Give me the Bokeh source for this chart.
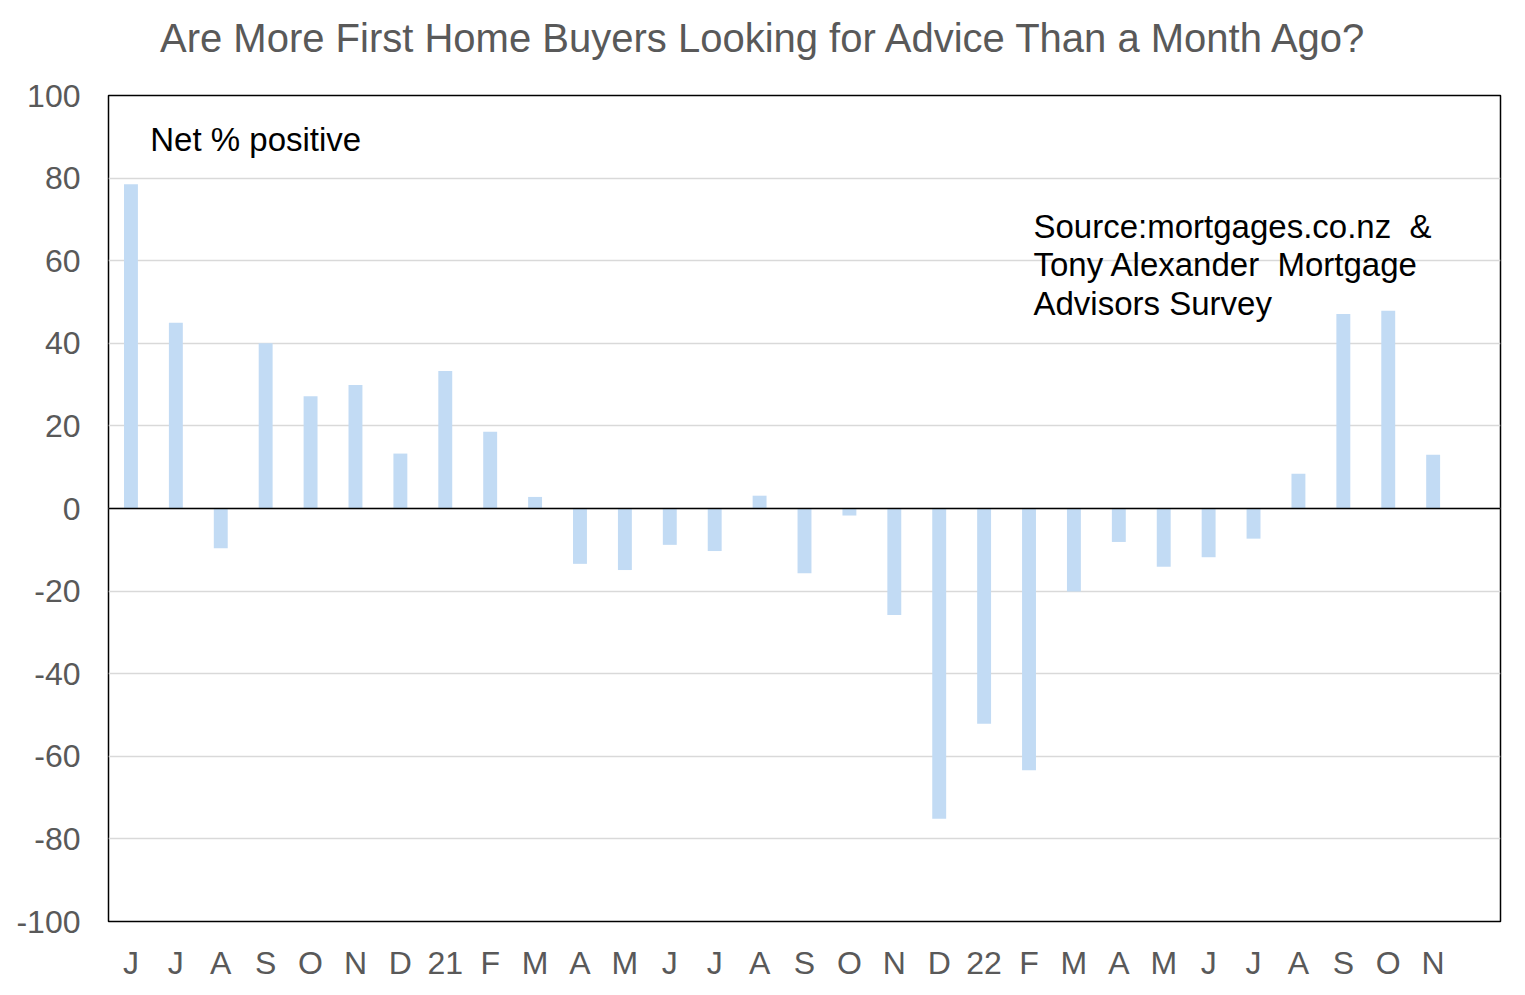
from bokeh.plotting import figure
from bokeh.layouts import column
from bokeh.models import FixedTicker, Span, Label, Range1d, ColumnDataSource, Div
from bokeh.embed import file_html
from bokeh.resources import INLINE

# monthly survey, Jun 2020 .. Nov 2022
months = ["J", "J", "A", "S", "O", "N", "D", "21", "F", "M", "A", "M", "J", "J", "A",
          "S", "O", "N", "D", "22", "F", "M", "A", "M", "J", "J", "A", "S", "O", "N"]
net_positive = [78.5, 45.0, -9.6, 40.0, 27.2, 29.9, 13.3, 33.3, 18.6, 2.8, -13.4, -14.9, -8.8, -10.3, 3.1,
                -15.7, -1.7, -25.8, -75.1, -52.1, -63.4, -20.1, -8.1, -14.1, -11.8, -7.3, 8.4, 47.1, 47.9, 13.0]
y_ticks = [-100, -80, -60, -40, -20, 0, 20, 40, 60, 80, 100]
source_lines = ["Source:mortgages.co.nz \u00a0&", "Tony Alexander \u00a0Mortgage", "Advisors Survey"]
title = "Are More First Home Buyers Looking for Advice Than a Month Ago?"

FONT = "Liberation Sans"
idx = list(range(len(months)))
src = ColumnDataSource(dict(x=idx, y=net_positive))

head = Div(text=title, width=1520, height=62, margin=0,
           styles={"font-family": FONT, "font-size": "40px", "color": "#595959",
                   "line-height": "48px", "padding-top": "14px", "padding-left": "160px",
                   "white-space": "nowrap"})

p = figure(width=1520, height=923, output_backend="svg", toolbar_location=None, tools="",
           x_range=Range1d(-0.5, len(months) + 0.5), y_range=Range1d(-100, 100),
           min_border_left=108, min_border_right=20, min_border_top=33, min_border_bottom=64)
p.margin = 0

p.vbar(x="x", top="y", bottom=0, width=0.31, source=src, fill_color="#C2DBF4", line_color=None)

p.add_layout(Span(location=0, dimension="width", line_color="black", line_width=1.5))

p.outline_line_color = "black"
p.outline_line_width = 1.5
p.xgrid.grid_line_color = None
p.ygrid.grid_line_color = "#D9D9D9"
p.ygrid.grid_line_width = 1.5

p.yaxis.ticker = FixedTicker(ticks=y_ticks)
p.yaxis.major_label_overrides = {t: str(t) for t in y_ticks}
p.xaxis.ticker = FixedTicker(ticks=idx)
p.xaxis.major_label_overrides = {i: m for i, m in enumerate(months)}
for ax in (p.xaxis, p.yaxis):
    ax.axis_line_color = None
    ax.major_tick_line_color = None
    ax.minor_tick_line_color = None
    ax.major_label_text_font = FONT
    ax.major_label_text_font_size = "32px"
    ax.major_label_text_color = "#595959"
p.yaxis.major_label_standoff = 22
p.xaxis.major_label_standoff = 17

p.add_layout(Label(x=0.43, y=89.3, text="Net % positive", text_font=FONT, text_font_size="33px",
                   text_color="black", text_baseline="middle"))
for i, line in enumerate(source_lines):
    p.add_layout(Label(x=20.1, y=68.3 - 9.3 * i, text=line, text_font=FONT, text_font_size="33px",
                       text_color="black", text_baseline="middle"))

page = column(head, p, spacing=0)
open("out.html", "w").write(file_html(page, INLINE))
